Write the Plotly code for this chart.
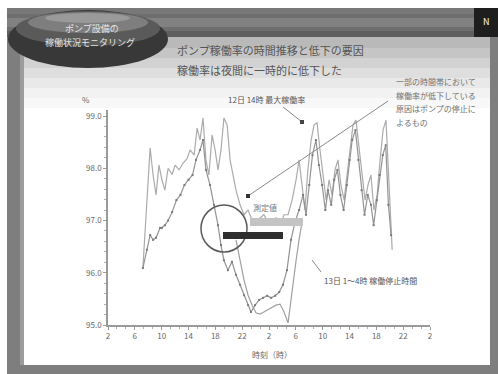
import plotly.graph_objects as go

# ---- data ----
tick_labels = ["2", "6", "10", "14", "18", "22", "2", "6", "10", "14", "18", "22", "2"]
y_ticks = [95.0, 96.0, 97.0, 98.0, 99.0]

a_x = [1.30, 1.45, 1.57, 1.68, 1.79, 1.90, 2.01, 2.12, 2.24, 2.39, 2.50, 2.65, 2.80, 2.94,
       3.06, 3.21, 3.32, 3.43, 3.54, 3.65, 3.76, 3.88, 3.99, 4.10, 4.21, 4.32, 4.44, 4.55,
       4.66, 4.77, 4.92, 5.07, 5.22, 5.37, 5.52, 5.67, 5.81, 5.96, 6.11, 6.26, 6.41, 6.56,
       6.71, 6.86, 7.01, 7.12, 7.23, 7.34, 7.45, 7.57, 7.68, 7.79, 7.90, 8.01, 8.13, 8.24,
       8.35, 8.46, 8.57, 8.68, 8.80, 8.91, 9.02, 9.13, 9.24, 9.36, 9.47, 9.58, 9.69, 9.80,
       9.91, 10.03, 10.14, 10.25, 10.36, 10.47, 10.59]
a_y = [96.09, 97.39, 98.39, 97.87, 97.49, 98.06, 97.78, 97.58, 98.00, 97.88, 98.06, 97.97,
       98.10, 98.18, 98.35, 98.25, 98.77, 98.54, 98.96, 98.16, 97.87, 98.64, 98.35, 97.97,
       98.35, 98.96, 98.83, 98.16, 97.87, 97.58, 97.30, 97.11, 97.20, 97.01, 96.91, 97.05,
       97.11, 96.97, 97.01, 97.05, 96.91, 97.11, 97.11, 97.39, 97.78, 98.16, 97.68, 97.20,
       97.97, 98.54, 98.83, 98.87, 98.35, 97.87, 97.39, 97.78, 97.49, 97.97, 98.16, 97.68,
       97.39, 97.87, 98.35, 98.83, 98.92, 98.35, 97.87, 97.39, 97.68, 97.87, 97.20, 97.49,
       98.16, 98.73, 98.92, 97.58, 96.44]

b_x = [1.30, 1.45, 1.57, 1.68, 1.79, 1.94, 2.01, 2.12, 2.24, 2.39, 2.55, 2.70, 2.85, 3.00,
       3.15, 3.28, 3.43, 3.54, 3.65, 3.80, 3.95, 4.10, 4.21, 4.32, 4.47, 4.62, 4.77, 4.92,
       5.07, 5.22, 5.33, 5.48, 5.63, 5.78, 5.93, 6.08, 6.23, 6.38, 6.52, 6.67, 6.82, 6.97,
       7.12, 7.27, 7.38, 7.50, 7.62, 7.75, 7.86, 7.98, 8.10, 8.20, 8.32, 8.43, 8.55, 8.66,
       8.78, 8.90, 9.00, 9.10, 9.22, 9.33, 9.45, 9.56, 9.68, 9.80, 9.90, 10.02, 10.12, 10.24,
       10.35, 10.45, 10.55]
b_y = [96.09, 96.44, 96.72, 96.63, 96.67, 96.86, 96.86, 96.91, 97.00, 97.16, 97.39, 97.49,
       97.68, 97.78, 97.87, 98.16, 98.35, 98.54, 97.97, 97.68, 97.30, 96.91, 96.53, 96.24,
       96.05, 96.21, 95.96, 95.77, 95.57, 95.38, 95.25, 95.38, 95.48, 95.52, 95.56, 95.52,
       95.56, 95.63, 95.77, 96.05, 96.63, 96.97, 97.20, 97.49, 97.11, 97.68, 98.25, 98.54,
       98.06, 97.68, 97.20, 97.58, 97.30, 97.78, 97.97, 97.49, 97.20, 97.68, 98.16, 98.54,
       98.73, 98.16, 97.58, 97.11, 97.49, 97.30, 96.91, 97.39, 97.87, 98.25, 98.44, 97.30,
       96.72]

c_x = [4.77, 4.92, 5.07, 5.22, 5.37, 5.52, 5.67, 5.81, 5.96, 6.11, 6.26, 6.41, 6.56, 6.71,
       6.86, 7.01, 7.12, 7.23]
c_y = [96.63, 96.24, 95.86, 95.57, 95.38, 95.23, 95.21, 95.25, 95.29, 95.33, 95.38, 95.40,
       95.25, 95.04, 95.67, 96.24, 96.63, 96.97]

# ---- layout geometry ----
W, H = 498, 374
L, R, T, B = 108, 68, 110, 49
PW, PH = W - L - R, H - T - B


def px(x):
    return (x - L) / PW


def py(y):
    return (H - B - y) / PH


FONT = "Noto Sans CJK JP"

fig = go.Figure()
fig.add_trace(go.Scatter(x=a_x, y=a_y, mode="lines",
                         line=dict(color="#ababab", width=1.2), name="A"))
fig.add_trace(go.Scatter(x=c_x, y=c_y, mode="lines",
                         line=dict(color="#a0a0a0", width=1.2), name="C"))
fig.add_trace(go.Scatter(x=b_x, y=b_y, mode="lines+markers",
                         line=dict(color="#939393", width=1.2),
                         marker=dict(size=2, color="#7a7a7a", symbol="square"),
                         name="B"))

shapes = []


def rect(x0, y0, x1, y1, color, layer="below", line=None):
    d = dict(type="rect", xref="paper", yref="paper",
             x0=px(x0), x1=px(x1), y0=py(y1), y1=py(y0),
             fillcolor=color, layer=layer, line=dict(width=0))
    if line:
        d["line"] = line
    shapes.append(d)


# slide frame
rect(7, 8, 498, 374, "#7e7e7e")
rect(20, 37, 24, 365, "#9c9c9c")
rect(24, 37, 490, 365, "#ffffff")
for (y0, y1, c) in [(37, 48, "#b9b9b9"), (48, 58, "#c5c5c5"), (58, 68, "#d2d2d2"),
                    (68, 78, "#dedede"), (78, 88, "#e9e9e9"), (88, 98, "#f2f2f2"),
                    (98, 108, "#f8f8f8")]:
    rect(24, y0, 490, y1, c)
# top band
rect(7, 8, 498, 37, "#6e6e6e")
rect(7, 8, 498, 14, "#787878")
rect(7, 18, 498, 27, "#818181")
rect(7, 31, 498, 37, "#5e5e5e")
rect(474, 8, 498, 37, "#1e1e1e")

# title ellipse
for (x0, y0, x1, y1, c) in [(8, 10, 168, 68, "#383838"), (16, 11, 160, 46, "#5a5a5a"),
                            (28, 12, 148, 33, "#7e7e7e"), (45, 13, 130, 23, "#9a9a9a")]:
    shapes.append(dict(type="circle", xref="paper", yref="paper",
                       x0=px(x0), x1=px(x1), y0=py(y1), y1=py(y0),
                       fillcolor=c, line=dict(width=0), layer="below"))

# highlight circle and bars in chart
shapes.append(dict(type="circle", xref="paper", yref="paper",
                   x0=px(201), x1=px(247), y0=py(252), y1=py(205),
                   line=dict(color="#5a5a5a", width=1.5), layer="above"))
rect(250, 218, 303, 226, "#c4c4c4", layer="above")
rect(223, 232, 283, 239, "#2e2e2e", layer="above")

# leader lines
for (x0, y0, x1, y1) in [(248, 196, 388, 101), (283, 107, 302, 122), (312, 260, 321, 272)]:
    shapes.append(dict(type="line", xref="paper", yref="paper",
                       x0=px(x0), x1=px(x1), y0=py(y0), y1=py(y1),
                       line=dict(color="#8a8a8a", width=1), layer="above"))
rect(246, 194, 250, 198, "#333333", layer="above")
rect(300, 120, 304, 124, "#444444", layer="above")

annotations = []


def text(x, y, s, size=8, color="#666666", xanchor="left", yanchor="middle"):
    annotations.append(dict(xref="paper", yref="paper", x=px(x), y=py(y), text=s,
                            showarrow=False, xanchor=xanchor, yanchor=yanchor,
                            font=dict(family=FONT, size=size, color=color)))


text(92, 29, "ポンプ設備の", size=9, color="#e4e4e4", xanchor="center")
text(90, 42, "稼働状況モニタリング", size=9, color="#e4e4e4", xanchor="center")
text(175, 50, "ポンプ稼働率の時間推移と低下の要因", size=11, color="#555555")
text(175, 70, "稼働率は夜間に一時的に低下した", size=11, color="#555555")
text(486, 22, "N", size=9, color="#ffffff", xanchor="center")

text(266, 100, "12日 14時 最大稼働率", size=8, color="#555555", xanchor="center")
text(322, 280, "13日 1～4時 稼働停止時間", size=8, color="#555555")
text(265, 207, "測定値", size=8, color="#777777", xanchor="center")
for i, s in enumerate(["一部の時間帯において", "稼働率が低下している", "原因はポンプの停止に", "よるもの"]):
    text(394, 82 + i * 13.5, s, size=8, color="#707070")

text(86, 100, "%", size=8, color="#666666", xanchor="center")
text(272, 354, "時刻（時）", size=8, color="#666666", xanchor="center")

fig.update_layout(
    width=W, height=H,
    margin=dict(l=L, r=R, t=T, b=B, pad=0),
    paper_bgcolor="#ffffff", plot_bgcolor="rgba(0,0,0,0)",
    showlegend=False,
    shapes=shapes, annotations=annotations,
    font=dict(family=FONT, size=8, color="#666666"),
)
fig.update_xaxes(range=[0, 12], tickmode="array", tickvals=list(range(len(tick_labels))),
                 ticktext=tick_labels, showgrid=False, zeroline=False,
                 showline=True, linecolor="#9a9a9a", linewidth=1.5,
                 ticks="outside", ticklen=3, tickcolor="#9a9a9a",
                 tickfont=dict(size=8, color="#666666"),
                 minor=dict(tickmode="linear", tick0=0, dtick=1 / 3, ticks="outside",
                            ticklen=2, tickcolor="#b0b0b0"))
fig.update_yaxes(range=[95.0, 95.0 + PH / 52.25], tickmode="array", tickvals=y_ticks,
                 ticktext=[f"{v:.1f}" for v in y_ticks], showgrid=False, zeroline=False,
                 showline=True, linecolor="#9a9a9a", linewidth=1.5,
                 ticks="outside", ticklen=3, tickcolor="#9a9a9a",
                 tickfont=dict(size=8, color="#666666"),
                 minor=dict(tickmode="linear", tick0=95, dtick=0.2, ticks="outside",
                            ticklen=2, tickcolor="#b0b0b0"))

fig.write_html("out.html")
